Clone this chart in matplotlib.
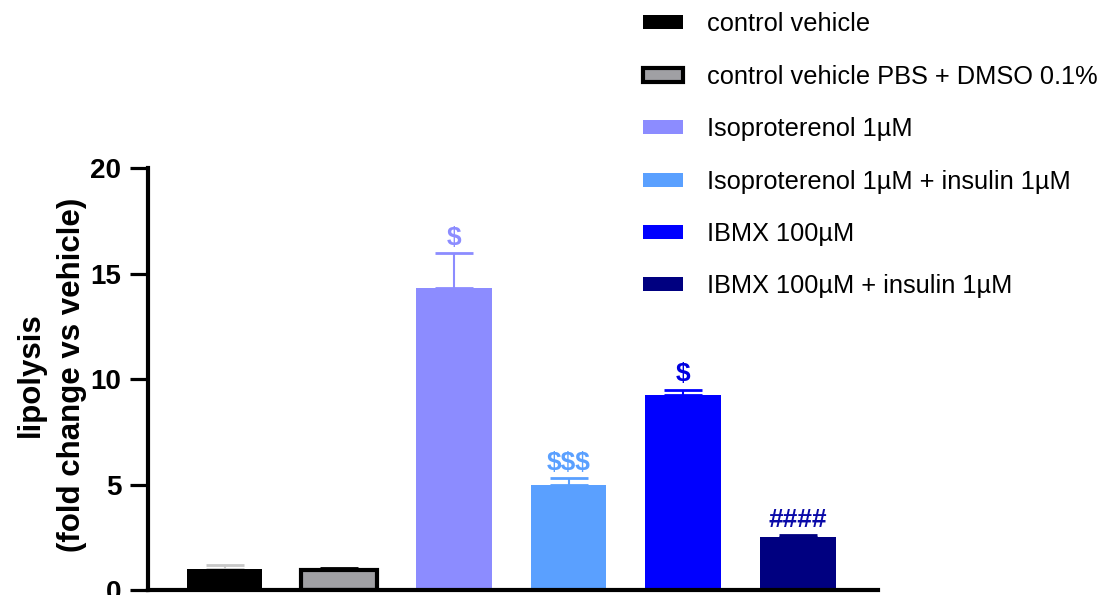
import matplotlib
matplotlib.use("Agg")
import matplotlib.pyplot as plt
from matplotlib.patches import Patch

plt.rcParams["font.family"] = ["Liberation Sans", "DejaVu Sans"]

GROUPS = [
    "control vehicle",
    "control vehicle PBS + DMSO 0.1%",
    "Isoproterenol 1µM",
    "Isoproterenol 1µM + insulin 1µM",
    "IBMX 100µM",
    "IBMX 100µM + insulin 1µM",
]
MEANS = [1.0, 0.95, 14.3, 5.0, 9.25, 2.5]
ERRORS = [0.2, 0.1, 1.65, 0.3, 0.25, 0.12]
MARKS = ["", "", "$", "$$$", "$", "####"]

FACE = ["#000000", "#a0a0a4", "#8c8cff", "#5aa0ff", "#0000ff", "#000080"]
EDGE = ["#000000", "#000000", "#8c8cff", "#5aa0ff", "#0000ff", "#000080"]
ERR_COLOR = ["#c8c8c8", "#000000", "#8c8cff", "#5aa0ff", "#0000ff", "#000080"]
MARK_COLOR = ["k", "k", "#8c8cff", "#5aa0ff", "#0000e0", "#0a0aa8"]

fig = plt.figure(figsize=(11.2, 5.95), dpi=100)
ax = fig.add_axes([0.132, 0.0084, 0.652, 0.7092])

x = range(len(MEANS))
for i in x:
    lw = 3 if i == 1 else 0
    ax.bar(i, MEANS[i], width=0.66, color=FACE[i], edgecolor=EDGE[i],
           linewidth=lw, zorder=2)
    ax.errorbar(i, MEANS[i], yerr=[[0], [ERRORS[i]]], fmt="none",
                ecolor=ERR_COLOR[i], elinewidth=1.5, capsize=13.5,
                capthick=2, zorder=1)
    if MARKS[i]:
        ax.text(i, MEANS[i] + ERRORS[i] + 0.15, MARKS[i], ha="center",
                va="bottom", fontsize=19, fontweight="bold",
                color=MARK_COLOR[i])

ax.set_xlim(-0.67, 5.7)
ax.set_ylim(0, 20)
ax.set_yticks([0, 5, 10, 15, 20])
ax.set_xticks([])
for s in ["top", "right"]:
    ax.spines[s].set_visible(False)
for s in ["left", "bottom"]:
    ax.spines[s].set_linewidth(3)
ax.tick_params(axis="y", length=13, width=2.3, pad=6, labelsize=20)
for t in ax.get_yticklabels():
    t.set_fontweight("bold")
ax.set_ylabel("lipolysis\n(fold change vs vehicle)", fontsize=22.5,
              fontweight="bold", linespacing=1.5)
ax.yaxis.set_label_coords(-0.083, 0.51)

handles = [Patch(facecolor=FACE[i], edgecolor=EDGE[i],
                 linewidth=3 if i == 1 else 0) for i in x]
fig.legend(handles, GROUPS, loc="upper left", bbox_to_anchor=(0.554, 1.018),
           frameon=False, fontsize=18.3, handlelength=1.56, handleheight=0.47,
           handletextpad=0.93, labelspacing=1.12)

fig.savefig("out.png", dpi=100)
